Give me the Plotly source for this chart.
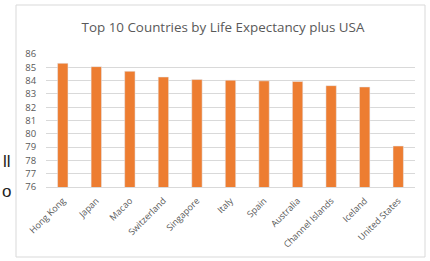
import plotly.graph_objects as go

countries = ["Hong Kong", "Japan", "Macao", "Switzerland", "Singapore", "Italy",
             "Spain", "Australia", "Channel Islands", "Iceland", "United States"]
life_expectancy = [85.30, 85.05, 84.70, 84.27, 84.08, 84.03, 83.98, 83.93, 83.62, 83.52, 79.08]
y_ticks = list(range(76, 87))

W, H = 430, 261
L, R, T, B = 46, 15, 54, 74
PW, PH = W - L - R, H - T - B

fig = go.Figure(go.Bar(x=countries, y=life_expectancy, marker_color="#ED7D31",
                       width=0.31))

fig.update_layout(
    width=W, height=H,
    margin=dict(l=L, r=R, t=T, b=B, pad=0, autoexpand=False),
    paper_bgcolor="white", plot_bgcolor="white",
    showlegend=False,
    font=dict(family="Open Sans, Liberation Sans, sans-serif", color="#595959"),
    title=dict(text="Top 10 Countries by Life Expectancy plus USA",
               x=223 / W, xanchor="center", y=1 - 27 / H, yanchor="middle",
               font=dict(size=13.4, color="#595959")),
    xaxis=dict(tickangle=-45, tickfont=dict(size=9, color="#595959"),
               showgrid=False, showline=True, linecolor="#d9d9d9", linewidth=1,
               ticks="outside", ticklen=4, tickcolor="rgba(0,0,0,0)", automargin=False),
    yaxis=dict(range=[76, 86], tickvals=y_ticks, tickfont=dict(size=9.5, color="#595959"),
               showgrid=True, gridcolor="#d9d9d9", gridwidth=1, zeroline=False,
               showline=False, ticks="outside", ticklen=7, tickcolor="rgba(0,0,0,0)",
               automargin=False),
    shapes=[dict(type="rect", xref="paper", yref="paper",
                 x0=(16 - L) / PW, x1=(425 - L) / PW,
                 y0=-(257 - (H - B)) / PH, y1=1 + (T - 5) / PH,
                 line=dict(color="#d9d9d9", width=1), fillcolor="rgba(0,0,0,0)",
                 layer="above")],
    annotations=[
        dict(text="ll", xref="paper", yref="paper", x=-(L - 13) / PW, xanchor="right",
             y=(H - B - 161) / PH, yanchor="middle", showarrow=False,
             font=dict(size=17, color="#222222", family="Liberation Sans, sans-serif")),
        dict(text="o", xref="paper", yref="paper", x=-(L - 0) / PW, xanchor="left",
             y=(H - B - 191) / PH, yanchor="middle", showarrow=False,
             font=dict(size=17, color="#222222", family="Liberation Sans, sans-serif")),
    ],
)

fig.write_html("out.html", config={"displayModeBar": False},
               post_script="document.body.style.margin='0px';document.body.style.overflow='hidden';")
